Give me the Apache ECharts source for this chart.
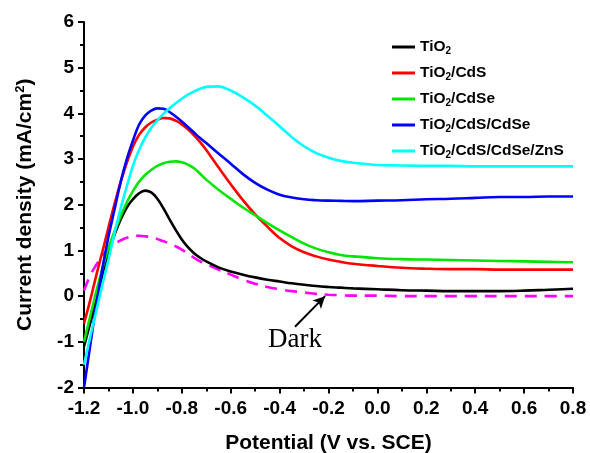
<!DOCTYPE html>
<html><head><meta charset="utf-8">
<script src="https://cdn.jsdelivr.net/npm/echarts@6/dist/echarts.min.js"></script>
<style>html,body{margin:0;padding:0;background:#fff}#c{width:590px;height:453px}</style>
</head><body><div id="c"></div>
<script>
const potential = [-1.2,-1.175,-1.15,-1.125,-1.1,-1.075,-1.05,-1.025,-1.0,-0.975,-0.95,-0.925,-0.9,-0.875,-0.85,-0.825,-0.8,-0.775,-0.75,-0.725,-0.7,-0.65,-0.6,-0.55,-0.5,-0.45,-0.4,-0.35,-0.3,-0.25,-0.2,-0.15,-0.1,0,0.1,0.2,0.3,0.4,0.5,0.6,0.7,0.8];
const tio2 = [-1.1,-0.6,-0.1,0.45,0.95,1.35,1.68,1.94,2.12,2.25,2.31,2.27,2.13,1.92,1.68,1.45,1.24,1.07,0.94,0.84,0.76,0.63,0.54,0.47,0.41,0.36,0.32,0.28,0.25,0.22,0.2,0.185,0.17,0.15,0.13,0.12,0.11,0.11,0.11,0.12,0.14,0.16];
const tio2Cds = [-0.6,-0.1,0.45,0.97,1.5,2.02,2.5,2.92,3.27,3.53,3.69,3.8,3.86,3.9,3.89,3.84,3.76,3.65,3.52,3.37,3.2,2.82,2.45,2.1,1.79,1.52,1.27,1.09,0.96,0.87,0.8,0.75,0.71,0.66,0.62,0.6,0.59,0.59,0.58,0.58,0.58,0.58];
const tio2Cdse = [-1.0,-0.45,0.1,0.6,1.05,1.42,1.75,2.05,2.3,2.5,2.65,2.76,2.85,2.91,2.94,2.95,2.93,2.88,2.8,2.68,2.55,2.33,2.13,1.94,1.77,1.6,1.44,1.29,1.15,1.04,0.96,0.9,0.87,0.83,0.81,0.8,0.79,0.78,0.77,0.76,0.75,0.74];
const tio2CdsCdse = [-2.0,-1.1,-0.2,0.6,1.3,1.9,2.5,3.0,3.4,3.75,3.95,4.06,4.11,4.1,4.03,3.93,3.82,3.7,3.58,3.46,3.35,3.12,2.9,2.67,2.48,2.33,2.22,2.16,2.12,2.1,2.09,2.085,2.08,2.09,2.1,2.12,2.13,2.15,2.17,2.17,2.18,2.18];
const tio2CdsCdseZns = [-1.5,-0.9,-0.33,0.25,0.8,1.38,1.92,2.4,2.85,3.2,3.47,3.68,3.85,3.99,4.11,4.22,4.32,4.41,4.48,4.54,4.58,4.59,4.5,4.35,4.17,3.95,3.72,3.48,3.28,3.13,3.03,2.96,2.92,2.87,2.86,2.85,2.85,2.84,2.84,2.84,2.84,2.84];
const dark = [0.12,0.45,0.68,0.88,1.03,1.14,1.22,1.28,1.31,1.32,1.31,1.29,1.25,1.2,1.15,1.09,1.02,0.93,0.84,0.76,0.7,0.58,0.47,0.36,0.27,0.2,0.15,0.11,0.08,0.05,0.03,0.02,0.01,0.01,0.0,0.0,0.0,0.0,0.0,0.0,0.0,0.0];
const seriesNames = ['TiO2','TiO2/CdS','TiO2/CdSe','TiO2/CdS/CdSe','TiO2/CdS/CdSe/ZnS'];
const seriesValues = [tio2, tio2Cds, tio2Cdse, tio2CdsCdse, tio2CdsCdseZns];
const seriesColors = ['#000000','#ff0000','#00e600','#0000ff','#00ffff'];
const darkLabel = 'Dark';

const font = 'Liberation Sans, Arial, sans-serif';
const pts = v => potential.map((x, i) => [x, v[i]]);
const series = seriesNames.map((n, k) => ({
  name: n, type: 'line', data: pts(seriesValues[k]), showSymbol: false, smooth: 0.4,
  lineStyle: {color: seriesColors[k], width: 2.6}, itemStyle: {color: seriesColors[k]}, z: 3
}));
series.push({
  name: 'Dark', type: 'line', data: pts(dark), showSymbol: false, smooth: 0.4,
  lineStyle: {color: '#ff00ff', width: 2.6, type: [12, 8]}, itemStyle: {color: '#ff00ff'}, z: 2,
  markLine: {
    silent: true, symbolSize: [9, 12], label: {show: false},
    lineStyle: {color: '#000', width: 2, type: 'solid'},
    data: [[{coord: [-0.337, -0.67], symbol: 'none'}, {coord: [-0.214, 0.0], symbol: 'arrow'}]]
  }
});

const chart = echarts.init(document.getElementById('c'), null, {renderer: 'canvas'});
chart.setOption({
  animation: false,
  backgroundColor: '#fff',
  grid: {left: 84, right: 17, top: 22, bottom: 65.5, outerBoundsMode: 'none', containLabel: false},
  legend: {
    data: seriesNames, orient: 'vertical', left: 387, top: 33, itemGap: 8,
    icon: 'rect', itemWidth: 23, itemHeight: 3,
    formatter: n => n.replace('TiO2', 'TiO{s|2}'),
    textStyle: {fontFamily: font, fontWeight: 'bold', fontSize: 15.5, color: '#000', lineHeight: 18,
      rich: {s: {fontFamily: font, fontWeight: 'bold', fontSize: 10, color: '#000', lineHeight: 18, padding: [8, 0, 0, 0]}}}
  },
  xAxis: {
    type: 'value', min: -1.2, max: 0.8, interval: 0.2,
    name: 'Potential (V vs. SCE)', nameLocation: 'middle', nameGap: 45,
    nameTextStyle: {fontFamily: font, fontWeight: 'bold', fontSize: 21, color: '#000'},
    axisLine: {onZero: false, lineStyle: {color: '#000', width: 2}},
    axisTick: {length: 6, lineStyle: {color: '#000', width: 2}},
    minorTick: {show: true, splitNumber: 2, length: 4, lineStyle: {color: '#000', width: 2}},
    splitLine: {show: false},
    axisLabel: {fontFamily: font, fontWeight: 'bold', fontSize: 19, color: '#000', margin: 12,
      formatter: v => v.toFixed(1)}
  },
  yAxis: {
    type: 'value', min: -2, max: 6, interval: 1,
    name: 'Current density (mA/cm{p|2})', nameLocation: 'middle', nameGap: 47,
    nameTextStyle: {fontFamily: font, fontWeight: 'bold', fontSize: 21, color: '#000',
      rich: {p: {fontFamily: font, fontWeight: 'bold', fontSize: 13, color: '#000', padding: [0, 0, 10, 0]}}},
    axisLine: {onZero: false, lineStyle: {color: '#000', width: 2}},
    axisTick: {length: 6, lineStyle: {color: '#000', width: 2}},
    minorTick: {show: true, splitNumber: 2, length: 4, lineStyle: {color: '#000', width: 2}},
    splitLine: {show: false},
    axisLabel: {fontFamily: font, fontWeight: 'bold', fontSize: 19, color: '#000', margin: 10}
  },
  graphic: [{type: 'text', left: 268, top: 326,
    style: {text: darkLabel, font: '27px "Liberation Serif", "Times New Roman", serif', fill: '#000'}}],
  series: series
});
</script></body></html>
